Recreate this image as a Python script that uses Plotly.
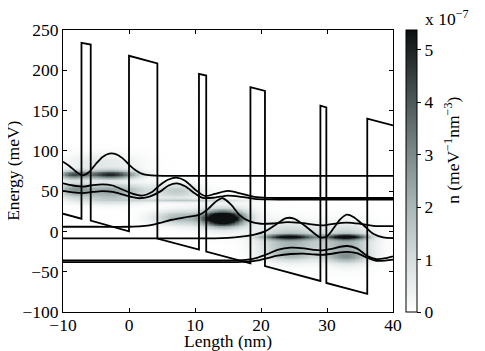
import numpy as np
import plotly.graph_objects as go

# ---------------- data ----------------
# conduction band profile (nm, meV)
band_x = [-10, -7.2, -7.2, -5.8, -5.8, 0, 0, 4.3, 4.3, 10.6, 10.6, 11.7, 11.7,
          18.4, 18.4, 20.6, 20.6, 29.0, 29.0, 29.9, 29.9, 36.1, 36.1, 40]
band_E = [22, 15.8, 234, 232, 13.5, 0, 218, 208.5, -9, -22.5, 195.5, 193.5, -25,
          -39.5, 179, 174.5, -43, -61.5, 156, 154, -64, -77.5, 140, 131.5]

# |psi|^2 curves offset by their energy level (nm, meV)
wA_x = [-10, -9, -8, -7, -6, -5, -4, -3, -2, -1, 0, 1, 2, 3, 4, 6, 10, 20, 30, 40]
wA_E = [86.5, 81, 74, 69.5, 74, 84, 92.5, 96.5, 96, 91, 83, 76, 71.5, 69.8, 69.2, 69, 69, 69, 69, 69]

wB_x = [-10, -8.5, -7, -5.5, -4, -2.5, -1, 0.5, 2, 3.5, 4.7, 6, 7.2, 8.5, 10, 11.5, 13, 15, 17, 19, 21, 24, 30, 40]
wB_E = [59.7, 57, 55.6, 57.5, 58.5, 57, 52, 47, 44.5, 49, 57.7, 64.5, 66.7, 63, 52, 44, 46.5, 50.3, 47, 43, 41.7, 41.5, 41.5, 41.5]

wC_x = [-10, -8.5, -7, -5.5, -4, -2.5, -1, 0.5, 1.5, 3, 4.7, 6, 7.2, 8.5, 10, 11.2, 13, 15, 17, 19, 21, 24, 30, 40]
wC_E = [50.3, 48.5, 47.6, 49, 50, 49, 46, 42.5, 41.2, 43, 49.4, 57, 59.7, 56, 47, 41.5, 42, 44.5, 43, 40.5, 39.7, 39.5, 39.5, 39.5]

wD_x = [-10, -5, 0, 2, 3.5, 4.7, 6.5, 8.5, 10.7, 12, 13, 14.2, 15.5, 16.8, 18.3, 20, 22, 24, 26, 28, 29.5, 31, 33, 35, 37, 40]
wD_E = [5.8, 5.8, 5.8, 6.5, 8, 10.5, 14.5, 17.5, 20.8, 28, 36, 41.2, 33, 20, 12.5, 9.5, 10, 11.5, 10.5, 8.5, 7.5, 9.5, 11, 9.5, 7, 6.5]

wF_x = [-10, 0, 10, 13, 15, 17, 19, 20.6, 22, 23.8, 25, 26.5, 28, 29, 30, 31, 32, 33, 34, 35.5, 37, 38.5, 40]
wF_E = [-8.6, -8.6, -8.6, -8.6, -8, -6.5, -4, 0, 7, 16.5, 16, 8, -2, -7.5, -6, 4, 15, 20.8, 18, 8, -3, -7.5, -8.3]

wG_x = [-10, 0, 10, 16, 18, 19.5, 21, 22.5, 24.5, 26.5, 28, 29.3, 30.5, 32, 33.1, 34.5, 36.2, 37.5, 39, 40]
wG_E = [-36, -36, -36, -36, -35, -32.5, -28, -23, -20.2, -21, -23, -23.4, -22, -19, -18.1, -21, -31, -34.5, -33, -31]

wH_x = [-10, 0, 10, 16, 18, 19.5, 21, 22.5, 24.5, 26.5, 28, 29.3, 30.5, 32, 33.1, 34.5, 36.2, 37.5, 39, 40]
wH_E = [-38, -38, -38, -38, -37.5, -36, -33, -30, -28, -27.5, -28.5, -29, -28, -26, -25.5, -27, -33, -36.5, -36, -35]

# electron density features (centre x, centre E, width x, width E, peak in 1e-7 meV^-1 nm^-3)
blob_x   = [-8.5, -2.8, -4.0, -3.0, -8.5, -3.0, 9.0, 7.5, 7.5, 14.3, 14.3, 24.3, 33.0, 24.5, 33.0, 33.0, 24.5]
blob_E   = [70.5, 70.5, 84.0, 51.0, 52.0, 40.0, 38.5, 50.0, 17.0, 16.0, 18.0, -7.0, -7.0, -12.0, -15.0, -31.0, -29.0]
blob_sx  = [1.5, 2.7, 4.0, 4.0, 1.6, 4.0, 6.0, 2.4, 2.7, 2.0, 3.4, 2.7, 2.1, 3.2, 2.6, 2.2, 2.7]
blob_sE  = [3.5, 3.5, 9.0, 6.0, 6.0, 5.0, 1.4, 6.5, 6.0, 6.0, 12.0, 2.2, 2.2, 14.0, 15.0, 5.0, 5.0]
blob_amp = [3.6, 4.8, 0.7, 2.4, 1.8, 1.0, 1.3, 1.4, 1.9, 8.0, 0.9, 4.2, 4.8, 2.1, 2.1, 1.7, 1.2]

x_ticks = [-10, 0, 10, 20, 30, 40]
y_ticks = [-100, -50, 0, 50, 100, 150, 200, 250]
c_ticks = [0, 1, 2, 3, 4, 5]
c_max = 5.38

# ---------------- build figure ----------------
gx = np.linspace(-10, 40, 251)
gE = np.linspace(-100, 250, 351)
X, Y = np.meshgrid(gx, gE)
Z = np.zeros_like(X)
for xc, ec, sx, se, a in zip(blob_x, blob_E, blob_sx, blob_sE, blob_amp):
    Z += a * np.exp(-0.5 * ((X - xc) / sx) ** 2 - 0.5 * ((Y - ec) / se) ** 2)
Z = np.minimum(Z, c_max)

FONT = "Liberation Serif, Times New Roman, Times, serif"
FS = 17.5

cscale = [[0.0, "#ffffff"], [0.2, "#d3dbdb"], [0.4, "#a3b1b1"],
          [0.6, "#728080"], [0.8, "#404949"], [1.0, "#0c1010"]]

fig = go.Figure()
fig.add_trace(go.Heatmap(
    x=gx, y=gE, z=Z, zmin=0, zmax=c_max, colorscale=cscale,
    colorbar=dict(thickness=11, len=1, lenmode="fraction", y=0.5, yanchor="middle",
                  x=1.0385, xanchor="left", xpad=0, ypad=0,
                  outlinecolor="black", outlinewidth=1,
                  ticks="outside", ticklen=4, tickcolor="black",
                  tickvals=c_ticks, ticktext=[str(v) for v in c_ticks],
                  tickfont=dict(family=FONT, size=FS, color="black")),
    hoverinfo="skip"))

for cx, cy in [(wA_x, wA_E), (wB_x, wB_E), (wC_x, wC_E), (wD_x, wD_E),
               (wF_x, wF_E), (wG_x, wG_E), (wH_x, wH_E)]:
    fig.add_trace(go.Scatter(x=cx, y=cy, mode="lines",
                             line=dict(color="black", width=1.8, shape="spline", smoothing=0.8),
                             showlegend=False, hoverinfo="skip"))
fig.add_trace(go.Scatter(x=band_x, y=band_E, mode="lines",
                         line=dict(color="black", width=1.8),
                         showlegend=False, hoverinfo="skip"))

axis_common = dict(showline=True, linecolor="black", linewidth=1, mirror="ticks",
                   ticks="inside", ticklen=4, tickcolor="black", showgrid=False,
                   zeroline=False, tickfont=dict(family=FONT, size=FS, color="black"))

# the page adds an 8 px body margin, so the figure is 8 px smaller
fig.update_layout(
    width=477, height=343,
    margin=dict(l=55, r=92, t=19, b=39),
    paper_bgcolor="white", plot_bgcolor="white",
    showlegend=False,
    xaxis=dict(range=[-10, 40], tickvals=x_ticks, ticklabelstandoff=-3, **axis_common),
    yaxis=dict(range=[-100, 250], tickvals=y_ticks, **axis_common),
    annotations=[
        dict(text="Length (nm)", x=0.5, y=-0.104, xref="paper", yref="paper",
             xanchor="center", yanchor="middle", showarrow=False,
             font=dict(family=FONT, size=FS, color="black")),
        dict(text="Energy (meV)", x=-0.152, y=0.5, xref="paper", yref="paper",
             xanchor="center", yanchor="middle", textangle=-90, showarrow=False,
             font=dict(family=FONT, size=FS, color="black")),
        dict(text="n (meV<sup>−1</sup>nm<sup>−3</sup>)", x=1.178, y=0.574,
             xref="paper", yref="paper", xanchor="center", yanchor="middle",
             textangle=-90, showarrow=False,
             font=dict(family=FONT, size=FS, color="black")),
        dict(text="x 10<sup>−7</sup>", x=1.09, y=0.995, xref="paper", yref="paper",
             xanchor="left", yanchor="bottom", showarrow=False,
             font=dict(family=FONT, size=FS, color="black")),
    ],
)

fig.write_html("out.html")
